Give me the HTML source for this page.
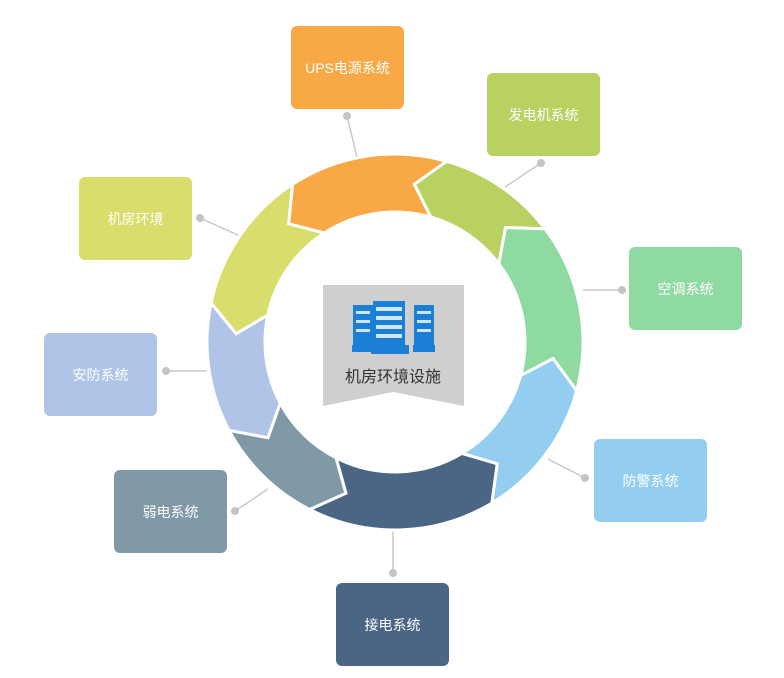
<!DOCTYPE html>
<html><head><meta charset="utf-8">
<style>
body{margin:0;background:#fff;width:784px;height:678px;overflow:hidden;font-family:"Liberation Sans","Noto Sans CJK SC",sans-serif;}
.b{position:absolute;width:113px;height:83px;border-radius:6px;color:#fff;font-size:14px;display:flex;align-items:center;justify-content:center;}
</style></head><body>
<svg id="s" width="784" height="678" style="position:absolute;left:0;top:0">
<g stroke="#c8c8c8" stroke-width="1.5" fill="#c4c4c4">
<line x1="347" y1="116" x2="357" y2="157"/><circle cx="347" cy="116" r="4" stroke="none"/>
<line x1="541" y1="163" x2="505" y2="187"/><circle cx="541" cy="163" r="4" stroke="none"/>
<line x1="622" y1="290" x2="583" y2="290"/><circle cx="622" cy="290" r="4" stroke="none"/>
<line x1="585" y1="478" x2="548" y2="459"/><circle cx="585" cy="478" r="4" stroke="none"/>
<line x1="393" y1="573" x2="393" y2="530"/><circle cx="393" cy="573" r="4" stroke="none"/>
<line x1="235" y1="511" x2="268" y2="489"/><circle cx="235" cy="511" r="4" stroke="none"/>
<line x1="166" y1="371" x2="207" y2="371"/><circle cx="166" cy="371" r="4" stroke="none"/>
<line x1="200" y1="218" x2="240" y2="236"/><circle cx="200" cy="218" r="4" stroke="none"/>
</g>
<g id="ring"></g>
<path d="M323 285 H464 V406 L393 392 L323 406 Z" fill="#cfcfcf"/>
<g fill="#1b7fd6">
<rect x="353" y="305" width="20" height="40"/>
<rect x="414" y="305" width="20" height="40"/>
<rect x="373" y="301" width="32" height="45"/>
<rect x="352" y="345" width="22" height="7"/>
<rect x="413" y="345" width="22" height="7"/>
<rect x="371" y="345" width="38" height="9"/>
</g>
<g fill="#cfe6fa">
<rect x="376" y="307" width="26" height="4"/><rect x="376" y="316" width="26" height="4"/><rect x="376" y="325" width="26" height="4"/><rect x="376" y="334" width="26" height="4"/>
<rect x="356" y="311" width="14" height="3"/><rect x="356" y="320" width="14" height="3"/><rect x="356" y="329" width="14" height="3"/>
<rect x="417" y="311" width="14" height="3"/><rect x="417" y="320" width="14" height="3"/><rect x="417" y="329" width="14" height="3"/>
</g>
<text x="393" y="382" font-size="16" fill="#333" text-anchor="middle" font-family="Liberation Sans, Noto Sans CJK SC, sans-serif">机房环境设施</text>
</svg>
<div class="b" style="left:291px;top:26px;background:#f8a945">UPS电源系统</div>
<div class="b" style="left:487px;top:73px;background:#b8d160">发电机系统</div>
<div class="b" style="left:629px;top:247px;background:#8fdaa3">空调系统</div>
<div class="b" style="left:594px;top:439px;background:#93cdef">防警系统</div>
<div class="b" style="left:336px;top:583px;background:#4a6684">接电系统</div>
<div class="b" style="left:114px;top:470px;background:#7f99a7">弱电系统</div>
<div class="b" style="left:44px;top:333px;background:#afc4e6">安防系统</div>
<div class="b" style="left:79px;top:177px;background:#d8dd6b">机房环境</div>
<script>
var cx=395,cy=342,R=188,r=130,m=(R+r)/2,d=9;
var b=[327,16,53,105,149,207,242,282,327+360];
var cols=["#f8a945","#b8d160","#8fdaa3","#93cdef","#4a6684","#7f99a7","#afc4e6","#d8dd6b"];
function p(a,rad){a=a*Math.PI/180;return (cx+rad*Math.sin(a)).toFixed(1)+" "+(cy-rad*Math.cos(a)).toFixed(1);}
var h="";
for(var i=0;i<8;i++){var a0=b[i],a1=b[i+1];if(a1<a0)a1+=360;
var s="M"+p(a0,R)+" A"+R+" "+R+" 0 0 1 "+p(a1,R)+" L"+p(a1-d,m)+" L"+p(a1,r)+" A"+r+" "+r+" 0 0 0 "+p(a0,r)+" L"+p(a0-d,m)+" Z";
h+='<path d="'+s+'" fill="'+cols[i]+'" stroke="#fff" stroke-width="3" stroke-linejoin="miter"/>';}
document.getElementById("ring").innerHTML=h;
</script>
</body></html>
